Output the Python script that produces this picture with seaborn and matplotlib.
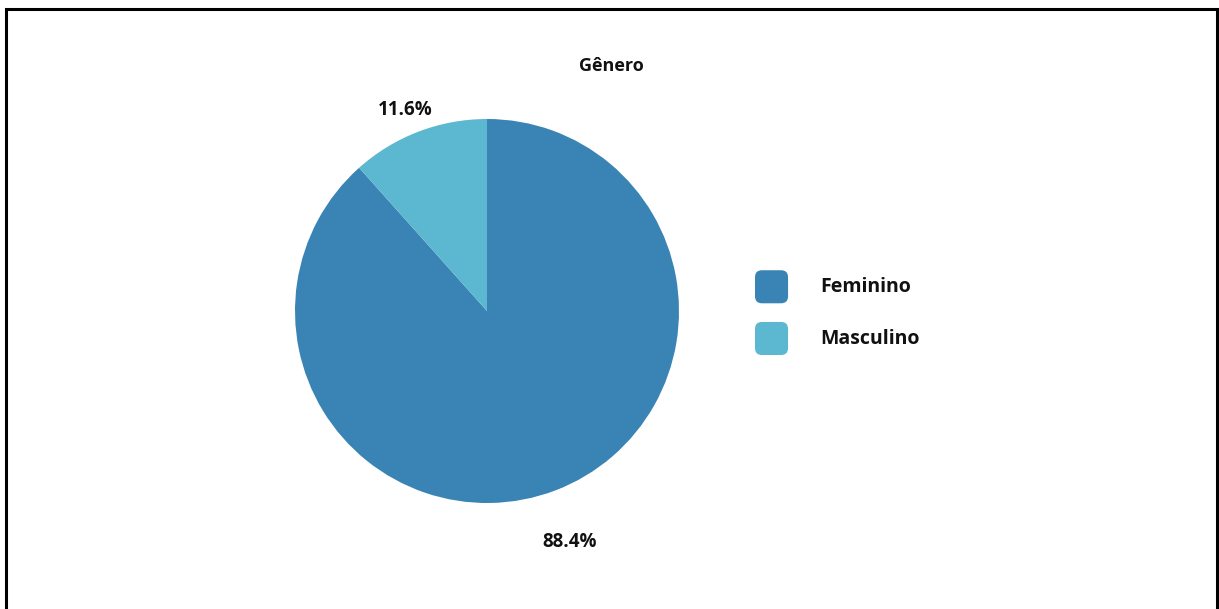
import numpy as np
import matplotlib
matplotlib.use("Agg")
import matplotlib.pyplot as plt
import seaborn as sns
from matplotlib.patches import FancyBboxPatch, Rectangle, Patch
from matplotlib.legend_handler import HandlerPatch

# Data
categories = ["Feminino", "Masculino"]
shares = [88.4, 11.6]
colors = ["#3a84b5", "#5bb8d0"]
title = "Gênero"

sns.set_theme(style="white")
plt.rcParams["font.family"] = ["Open Sans", "DejaVu Sans"]

W, H = 1219, 609
fig = plt.figure(figsize=(W / 100, H / 100), dpi=100)
fig.patch.set_facecolor("white")

# Pie axes: centre (487, 311) px from top, radius 192 px
cx, cy, R = 487, H - 311, 192
ax = fig.add_axes([(cx - R) / W, (cy - R) / H, 2 * R / W, 2 * R / H])
wedges, _ = ax.pie(shares, colors=colors, startangle=90, counterclock=False,
                   wedgeprops=dict(linewidth=0))
ax.set_xlim(-1, 1)
ax.set_ylim(-1, 1)
ax.set_aspect("equal")
ax.axis("off")

# Percentage labels placed outside each wedge along its mid-angle
label_dist = [1.275, 1.135]
for w, val, d in zip(wedges, shares, label_dist):
    ang = np.deg2rad((w.theta1 + w.theta2) / 2)
    ax.annotate(f"{val:.1f}%", xy=(d * np.cos(ang), d * np.sin(ang)),
                xytext=(-3, 0), textcoords="offset points",
                ha="center", va="center_baseline", fontsize=13.5,
                fontweight="bold", color="#111111", annotation_clip=False)

fig.text(611 / W, 1 - 66 / H, title, ha="center", va="center",
         fontsize=13, fontweight="bold", color="#111111")


class RoundedSquareHandler(HandlerPatch):
    """Rounded square legend key, centred on its label."""
    def create_artists(self, legend, orig_handle, xdescent, ydescent,
                       width, height, fontsize, trans):
        side = width
        yc = -ydescent + (height + ydescent) / 2 - 2.9
        p = FancyBboxPatch((-xdescent + 2, yc - side / 2 + 2), side - 4, side - 4,
                           boxstyle="round,pad=2,rounding_size=5",
                           facecolor=orig_handle.get_facecolor(),
                           edgecolor="none", transform=trans)
        return [p]


handles = [Patch(facecolor=c, label=l) for c, l in zip(colors, categories)]
leg = fig.legend(handles=handles, loc="center left",
                 bbox_to_anchor=(755 / W, 1 - 312 / H),
                 frameon=False, borderpad=0, borderaxespad=0,
                 handlelength=1.70, handleheight=1.70,
                 handletextpad=1.65, labelspacing=1.31,
                 prop=dict(family=["Open Sans", "DejaVu Sans"], weight="bold", size=14),
                 handler_map={Patch: RoundedSquareHandler()})
for t in leg.get_texts():
    t.set_color("#111111")

# Outer frame
fig.patches.append(Rectangle((5.5 / W, -0.05), (1216.5 - 5.5) / W, 1 - 9 / H + 0.05,
                             transform=fig.transFigure, fill=False,
                             edgecolor="black", linewidth=2.2))

fig.savefig("out.png", dpi=100, facecolor="white")
